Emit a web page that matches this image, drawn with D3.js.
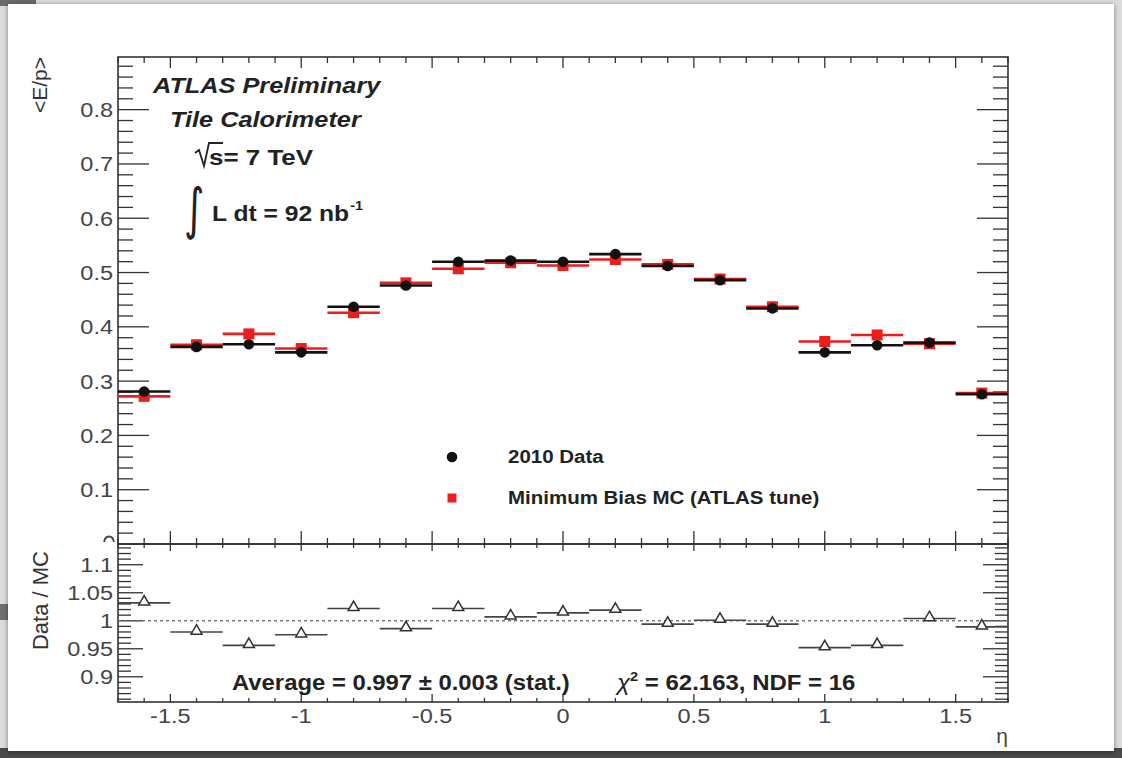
<!DOCTYPE html>
<html><head><meta charset="utf-8">
<script src="https://cdn.jsdelivr.net/npm/d3@7"></script>
<style>
html,body{margin:0;padding:0;background:#d6d6d6;overflow:hidden}
svg{display:block}
</style></head><body>
<svg id="c" width="1122" height="758"></svg>
<script>
// ---------------- data ----------------
const etaBins = [-1.6,-1.4,-1.2,-1.0,-0.8,-0.6,-0.4,-0.2,0.0,0.2,0.4,0.6,0.8,1.0,1.2,1.4,1.6];
const binHalfWidth = 0.1;
const dataEP = [0.281,0.363,0.368,0.353,0.437,0.476,0.520,0.522,0.520,0.534,0.512,0.486,0.434,0.353,0.366,0.371,0.276];
const mcEP   = [0.272,0.367,0.387,0.360,0.426,0.481,0.507,0.518,0.513,0.524,0.515,0.488,0.437,0.373,0.385,0.369,0.278];
const ratio  = [1.032,0.980,0.956,0.975,1.022,0.986,1.022,1.007,1.014,1.019,0.994,1.001,0.994,0.952,0.956,1.004,0.989];
const xTicks = [-1.5,-1,-0.5,0,0.5,1,1.5];
const xTickLabels = ["-1.5","-1","-0.5","0","0.5","1","1.5"];
const yTopTicks = [0,0.1,0.2,0.3,0.4,0.5,0.6,0.7,0.8];
const yTopLabels = ["0","0.1","0.2","0.3","0.4","0.5","0.6","0.7","0.8"];
const yBotTicks = [0.9,0.95,1,1.05,1.1];
const yBotLabels = ["0.9","0.95","1","1.05","1.1"];
const legendLabels = ["2010 Data","Minimum Bias MC (ATLAS tune)"];

// ---------------- layout ----------------
const SX = 1.12; // horizontal stretch of the original picture
const FONT = "'Liberation Sans', Arial, Helvetica, sans-serif";
const RED = "#ee1d1d", BLK = "#111";
const svg = d3.select("#c");

// background / card
const defs = svg.append("defs");
const f = defs.append("filter").attr("id","sh").attr("x","-5%").attr("y","-5%").attr("width","110%").attr("height","110%");
f.append("feDropShadow").attr("dx",0).attr("dy",1).attr("stdDeviation",2.5).attr("flood-color","#000").attr("flood-opacity",0.45);
svg.append("rect").attr("x",0).attr("y",0).attr("width",1122).attr("height",758).attr("fill","#dcdcdc");
svg.append("rect").attr("x",0).attr("y",0).attr("width",36).attr("height",6).attr("fill","#6a6a6a");
svg.append("rect").attr("x",0).attr("y",748).attr("width",1122).attr("height",10).attr("fill","#4a4a4a");
svg.append("rect").attr("x",0).attr("y",604).attr("width",10).attr("height",16).attr("fill","#707070");
svg.append("rect").attr("x",8).attr("y",4).attr("width",1106).attr("height",747).attr("fill","#fff").attr("filter","url(#sh)");

const x = d3.scaleLinear().domain([-1.7,1.7]).range([118,1008]);
const yTop = d3.scaleLinear().domain([0,0.897]).range([544,57]);
const yBot = d3.scaleLinear().domain([0.855,1.137]).range([702,544]);

function txt(g, px, py, s, o) {
  o = o || {};
  return g.append("text")
    .attr("transform", `translate(${px},${py}) scale(${o.sx||SX},1)`)
    .attr("font-family", FONT)
    .attr("font-size", o.size || 20)
    .attr("font-weight", o.weight || "normal")
    .attr("font-style", o.style || "normal")
    .attr("text-anchor", o.anchor || "start")
    .attr("fill", o.fill || "#222")
    .text(s);
}

defs.append("clipPath").attr("id","topclip").append("rect").attr("x",0).attr("y",0).attr("width",1122).attr("height",542);

const frameCol = "#333";
const minorX = d3.range(-17,18).map(i=>i/10).filter(v=>Math.abs(v*2-Math.round(v*2))>1e-6);

// ---------- axes/ticks ----------
const axG = svg.append("g").attr("stroke",frameCol).attr("stroke-width",1.3).attr("fill","none");
function hTicks(yy, dir, maj, min) {
  xTicks.forEach(v=>axG.append("line").attr("x1",x(v)).attr("x2",x(v)).attr("y1",yy).attr("y2",yy+dir*maj));
  minorX.forEach(v=>axG.append("line").attr("x1",x(v)).attr("x2",x(v)).attr("y1",yy).attr("y2",yy+dir*min));
}
function vTicks(sc, majVals, minVals, maj, min) {
  const [x0,x1] = x.range();
  majVals.forEach(v=>{
    axG.append("line").attr("x1",x0).attr("x2",x0+maj).attr("y1",sc(v)).attr("y2",sc(v));
    axG.append("line").attr("x1",x1).attr("x2",x1-maj).attr("y1",sc(v)).attr("y2",sc(v));
  });
  minVals.forEach(v=>{
    axG.append("line").attr("x1",x0).attr("x2",x0+min).attr("y1",sc(v)).attr("y2",sc(v));
    axG.append("line").attr("x1",x1).attr("x2",x1-min).attr("y1",sc(v)).attr("y2",sc(v));
  });
}
// top pad
hTicks(57, 1, 11, 6);
hTicks(544, -1, 13, 6);
const topMinor = d3.range(0,45).map(i=>i*0.02).filter(v=>v<=0.897 && Math.abs(v*10-Math.round(v*10))>1e-6);
vTicks(yTop, yTopTicks, topMinor, 31, 15);
// bottom pad
hTicks(544, 1, 7, 4);
hTicks(702, -1, 8, 4);
const botMinor = d3.range(86,114).map(i=>i/100).filter(v=>Math.abs(v*20-Math.round(v*20))>1e-6);
vTicks(yBot, yBotTicks, botMinor, 25, 13);

// frames
axG.append("rect").attr("x",118).attr("y",57).attr("width",890).attr("height",487).attr("stroke-width",1.6);
axG.append("rect").attr("x",118).attr("y",544).attr("width",890).attr("height",158).attr("stroke-width",1.6);

// tick labels
const lblG = svg.append("g");
yTopTicks.forEach((v,i)=>{
  if (v===0) return; // label "0" is cut off by the lower pad: only its top arc shows
  txt(lblG, 113, yTop(v)+7.5, yTopLabels[i], {size:21, anchor:"end", fill:"#444"});
});
// top of the clipped "0" label
lblG.append("path").attr("d",`M104,${yTop(0)-1} Q104.5,${yTop(0)-7.5} 109,${yTop(0)-7.5} Q113.5,${yTop(0)-7.5} 114,${yTop(0)-1}`)
  .attr("fill","none").attr("stroke","#444").attr("stroke-width",1.8).attr("clip-path","url(#topclip)");

yBotTicks.forEach((v,i)=>txt(lblG, 113, yBot(v)+7.5, yBotLabels[i], {size:21, anchor:"end", fill:"#444"}));
xTicks.forEach((v,i)=>txt(lblG, x(v), 723, xTickLabels[i], {size:21, anchor:"middle", fill:"#444"}));

// axis titles
svg.append("text").attr("transform","translate(47,57) rotate(-90)").attr("text-anchor","end")
  .attr("font-family",FONT).attr("font-size",21).attr("fill","#333").text("<E/p>");
svg.append("text").attr("transform","translate(48,551) rotate(-90)").attr("text-anchor","end")
  .attr("font-family",FONT).attr("font-size",22).attr("fill","#333").text("Data / MC");
txt(svg, 1008, 743, "η", {size:21, anchor:"end", fill:"#444", sx:1});

// ---------- top pad data ----------
const dG = svg.append("g");
etaBins.forEach((e,i)=>{
  dG.append("line").attr("x1",x(e-binHalfWidth)).attr("x2",x(e+binHalfWidth))
    .attr("y1",yTop(mcEP[i])).attr("y2",yTop(mcEP[i])).attr("stroke",RED).attr("stroke-width",2.6);
});
etaBins.forEach((e,i)=>{
  dG.append("rect").attr("x",x(e)-5.5).attr("y",yTop(mcEP[i])-5.5).attr("width",11).attr("height",11).attr("fill",RED);
});
etaBins.forEach((e,i)=>{
  dG.append("line").attr("x1",x(e-binHalfWidth)).attr("x2",x(e+binHalfWidth))
    .attr("y1",yTop(dataEP[i])).attr("y2",yTop(dataEP[i])).attr("stroke",BLK).attr("stroke-width",2.6);
});
etaBins.forEach((e,i)=>{
  dG.append("circle").attr("cx",x(e)).attr("cy",yTop(dataEP[i])).attr("r",5.3).attr("fill",BLK);
});

// ---------- bottom pad ----------
svg.append("line").attr("x1",118).attr("x2",1008).attr("y1",yBot(1)).attr("y2",yBot(1))
  .attr("stroke","#777").attr("stroke-width",1.6).attr("stroke-dasharray","3,3");
const rG = svg.append("g");
etaBins.forEach((e,i)=>{
  rG.append("line").attr("x1",x(e-binHalfWidth)).attr("x2",x(e+binHalfWidth))
    .attr("y1",yBot(ratio[i])).attr("y2",yBot(ratio[i])).attr("stroke","#444").attr("stroke-width",1.6);
});
const tri = d3.symbol().type(d3.symbolTriangle).size(52);
etaBins.forEach((e,i)=>{
  rG.append("path").attr("d",tri()).attr("transform",`translate(${x(e)},${yBot(ratio[i])-1})`)
    .attr("fill","#fff").attr("stroke","#333").attr("stroke-width",1.5);
});

// ---------- annotations ----------
const aG = svg.append("g");
txt(aG, 153, 93, "ATLAS Preliminary", {size:22.6, weight:"bold", style:"italic", fill:"#222"});
txt(aG, 170, 127, "Tile Calorimeter", {size:22.6, weight:"bold", style:"italic", fill:"#222"});
// sqrt(s)
aG.append("path").attr("d","M195,153 L199,150 L204,166 L209,143 L223,143").attr("fill","none").attr("stroke","#222").attr("stroke-width",1.8);
txt(aG, 209, 165, "s= 7 TeV", {size:22, weight:"bold", fill:"#222", sx:1.18});
// integral
aG.append("text").attr("transform","translate(184,228) scale(0.85,1.22)").attr("font-family","'DejaVu Sans', sans-serif")
  .attr("font-size",46).attr("fill","#222").text("∫");
const lt = txt(aG, 212, 221, "L dt = 92 nb", {size:22, weight:"bold", fill:"#222"});
lt.append("tspan").attr("font-size",13).attr("dy",-11).attr("dx",1).text("-1");

// legend
const lg = svg.append("g");
lg.append("circle").attr("cx",452).attr("cy",457).attr("r",5.3).attr("fill",BLK);
lg.append("rect").attr("x",447.5).attr("y",493.5).attr("width",9).attr("height",9).attr("fill",RED);
txt(lg, 508, 463, legendLabels[0], {size:18.3, weight:"bold", fill:"#222"});
txt(lg, 508, 504, legendLabels[1], {size:18.3, weight:"bold", fill:"#222"});

// bottom texts
txt(aG, 232, 690, "Average = 0.997 ± 0.003 (stat.)", {size:21.3, weight:"bold", fill:"#222"});
const chi = aG.append("text").attr("transform","translate(617,690) scale(1.12,1)")
  .attr("font-family",FONT).attr("font-size",21.4).attr("font-weight","bold").attr("fill","#222");
chi.append("tspan").attr("font-style","italic").attr("font-weight","normal").text("χ");
chi.append("tspan").attr("font-size",13).attr("dy",-9).text("2");
chi.append("tspan").attr("dy",9).text(" = 62.163, NDF = 16");
</script>
</body></html>
